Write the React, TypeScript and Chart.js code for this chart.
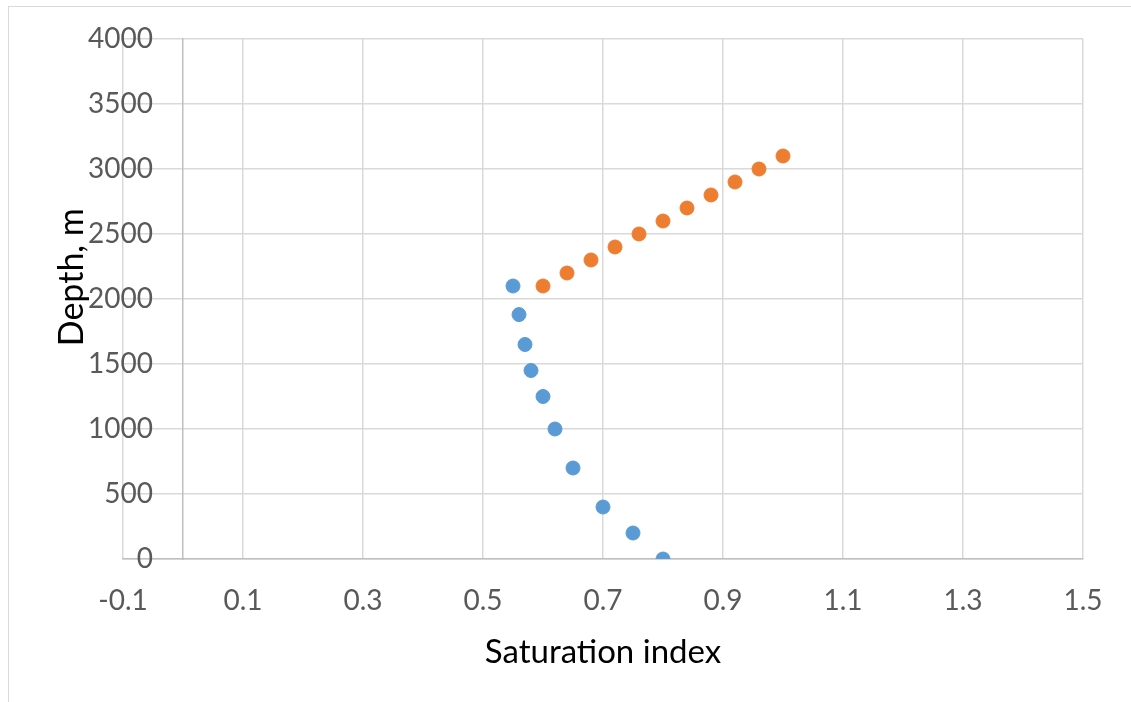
import React, { useEffect, useRef } from "react";
import { Chart, registerables } from "chart.js";

Chart.register(...registerables);

// Series 1 (blue): saturation index vs depth
const blueSI = [0.55, 0.56, 0.57, 0.58, 0.6, 0.62, 0.65, 0.7, 0.75, 0.8];
const blueDepth = [2100, 1880, 1650, 1450, 1250, 1000, 700, 400, 200, 0];

// Series 2 (orange)
const orangeSI = [0.6, 0.64, 0.68, 0.72, 0.76, 0.8, 0.84, 0.88, 0.92, 0.96, 1.0];
const orangeDepth = [2100, 2200, 2300, 2400, 2500, 2600, 2700, 2800, 2900, 3000, 3100];

// Axis ticks
const xTickValues = [-0.1, 0.1, 0.3, 0.5, 0.7, 0.9, 1.1, 1.3, 1.5];
const yTickValues = [0, 500, 1000, 1500, 2000, 2500, 3000, 3500, 4000];

const xTitle = "Saturation index";
const yTitle = "Depth, m";

const FONT = "Lato, 'Open Sans', sans-serif";
const TICK_SIZE = 28;

export default function App() {
  const ref = useRef<HTMLCanvasElement | null>(null);

  useEffect(() => {
    const canvas = ref.current;
    if (!canvas) return;
    // width of the widest y label, so that the labels end 30px left of the x=0 axis
    const mctx = canvas.getContext("2d")!;
    mctx.font = `${TICK_SIZE}px ${FONT}`;
    const widest = Math.max(...yTickValues.map((v) => mctx.measureText(String(v)).width));

    const toPoints = (xs: number[], ys: number[]) => xs.map((x, i) => ({ x, y: ys[i] }));
    const chart = new Chart(canvas, {
      type: "scatter",
      data: {
        datasets: [
          {
            label: "Series 1",
            data: toPoints(blueSI, blueDepth),
            backgroundColor: "#5B9BD5",
            borderColor: "#5B9BD5",
            borderWidth: 1,
            pointRadius: 7,
            yAxisID: "y",
            xAxisID: "x",
          },
          {
            label: "Series 2",
            data: toPoints(orangeSI, orangeDepth),
            backgroundColor: "#ED7D31",
            borderColor: "#ED7D31",
            borderWidth: 1,
            pointRadius: 7,
            yAxisID: "y",
            xAxisID: "x",
          },
        ],
      },
      options: {
        responsive: false,
        maintainAspectRatio: false,
        animation: false,
        events: [],
        layout: { padding: { left: 0, top: 39, right: 48, bottom: 0 } },
        plugins: {
          legend: { display: false },
          tooltip: { enabled: false },
        },
        scales: {
          x: {
            type: "linear",
            position: "bottom",
            min: -0.1,
            max: 1.5,
            afterBuildTicks: (s: any) => {
              s.ticks = xTickValues.map((v) => ({ value: v }));
            },
            afterFit: (s: any) => {
              s.height = 143;
            },
            grid: { color: "#d9d9d9", lineWidth: 1.5, drawTicks: false },
            border: { color: "#bfbfbf", width: 1.5 },
            ticks: {
              padding: 25,
              color: "#595959",
              font: { family: FONT, size: TICK_SIZE },
              callback: (v: any) => Number(v).toFixed(1),
            },
            title: {
              display: true,
              text: xTitle,
              color: "#000000",
              font: { family: FONT, size: 33 },
              padding: { top: 0, bottom: 30 },
            },
          },
          y: {
            type: "linear",
            position: "left",
            min: 0,
            max: 4000,
            afterBuildTicks: (s: any) => {
              s.ticks = yTickValues.map((v) => ({ value: v }));
            },
            afterFit: (s: any) => {
              s.width = 123;
            },
            grid: { color: "#d9d9d9", lineWidth: 1.5, drawTicks: false },
            border: { display: false },
            ticks: {
              mirror: true,
              crossAlign: "far",
              padding: 30 - widest,
              color: "#595959",
              font: { family: FONT, size: TICK_SIZE },
              callback: (v: any) => String(v),
            },
            title: {
              display: true,
              text: " ".repeat(5) + yTitle,
              color: "#000000",
              font: { family: FONT, size: 34 },
              padding: { top: 52, bottom: 0 },
            },
          },
          y0: {
            axis: "y",
            type: "linear",
            position: { x: 0 },
            min: 0,
            max: 4000,
            grid: { display: false, drawTicks: false },
            ticks: { display: false },
            border: { display: true, color: "#bfbfbf", width: 1.5 },
          },
        } as any,
      },
    });
    return () => chart.destroy();
  }, []);

  return (
    <div
      style={{
        position: "fixed",
        left: 0,
        top: 0,
        width: 1131,
        height: 702,
        overflow: "hidden",
        background: "#ffffff",
      }}
    >
      <div
        style={{
          position: "absolute",
          left: 8,
          top: 6,
          width: 1400,
          height: 900,
          border: "1px solid #d9d9d9",
          boxSizing: "border-box",
        }}
      />
      <canvas
        ref={ref}
        width={1131}
        height={702}
        style={{ position: "absolute", left: 0, top: 0, width: 1131, height: 702 }}
      />
    </div>
  );
}
